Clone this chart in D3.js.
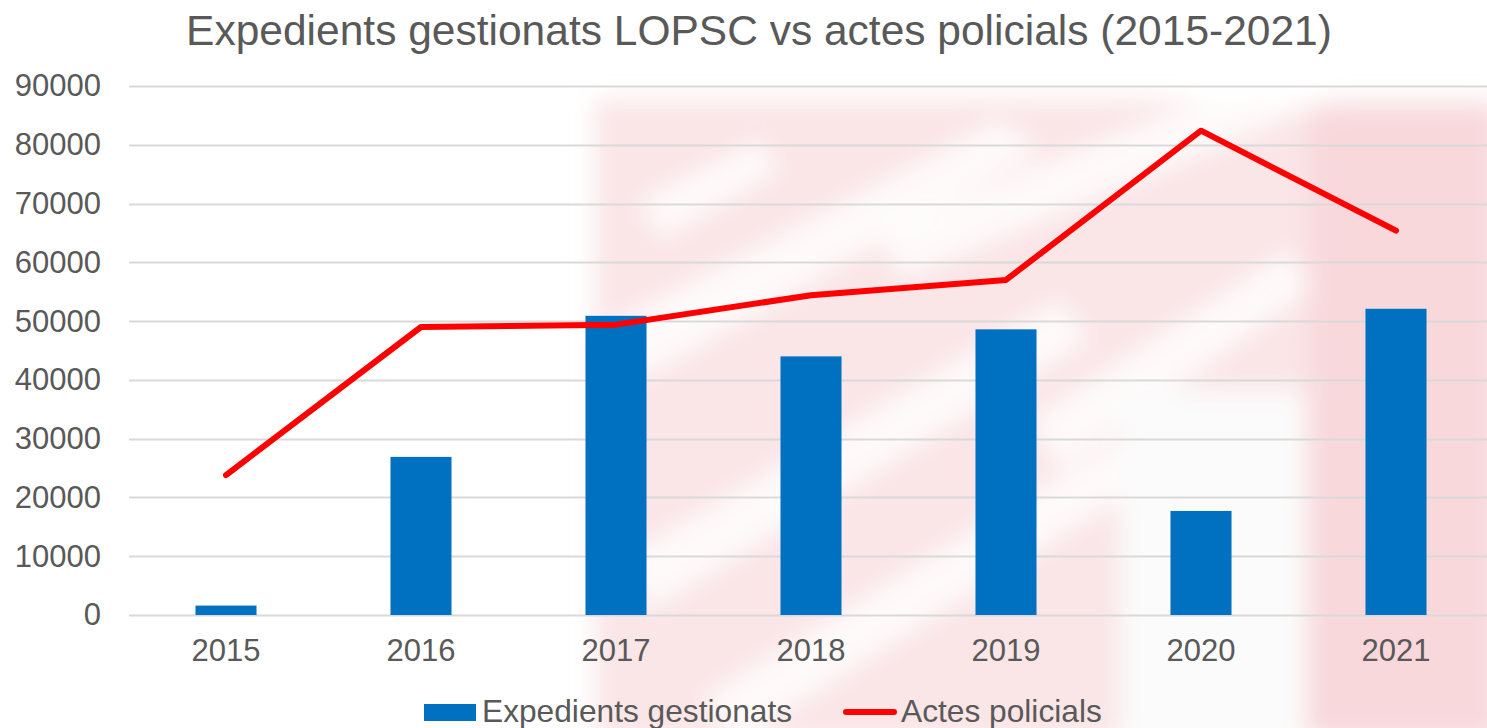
<!DOCTYPE html>
<html>
<head>
<meta charset="utf-8">
<script src="https://cdn.jsdelivr.net/npm/d3@7"></script>
<style>
  body { margin: 0; background: #fff; }
  svg { display: block; font-family: "Liberation Sans", Arial, sans-serif; }
</style>
</head>
<body>
<svg id="chart"></svg>
<script>
// data
var years = ["2015", "2016", "2017", "2018", "2019", "2020", "2021"];
var expedients = [1600, 26900, 50900, 44000, 48600, 17700, 52100];
var actes = [23800, 49000, 49400, 54400, 57000, 82400, 65400];
var yTicks = [0, 10000, 20000, 30000, 40000, 50000, 60000, 70000, 80000, 90000];

var W = 1487, H = 728;
var svg = d3.select("#chart").attr("width", W).attr("height", H);

var grey = "#595959";

// faint watermark behind the plot (decoration only)
var defs = svg.append("defs");
defs.append("filter").attr("id", "blur")
    .attr("x", "-20%").attr("y", "-20%").attr("width", "140%").attr("height", "140%")
    .append("feGaussianBlur").attr("stdDeviation", 12);
var wm = svg.append("g").attr("filter", "url(#blur)");
wm.append("rect").attr("x", 595).attr("y", 100).attr("width", 900).attr("height", 640)
    .attr("fill", "#f8dadd").attr("opacity", 0.7);
wm.append("rect").attr("x", 1310).attr("y", 110).attr("width", 190).attr("height", 630)
    .attr("fill", "#f8d8db");
// white streaks through the pink
var streaks = [
  "M600,330 L1000,120 L1040,150 L640,380 Z",
  "M620,560 L1060,300 L1090,340 L650,610 Z",
  "M700,700 L1150,420 L1180,460 L740,740 Z",
  "M880,230 L1300,60 L1330,100 L900,280 Z",
  "M1030,420 L1290,250 L1310,290 L1060,470 Z",
  "M640,200 L760,140 L780,170 L660,240 Z"
];
wm.selectAll("path.streak").data(streaks).enter().append("path")
    .attr("class", "streak").attr("d", function(d) { return d; })
    .attr("fill", "#fff").attr("opacity", 0.8);
wm.append("rect").attr("x", 1120).attr("y", 390).attr("width", 185).attr("height", 350)
    .attr("fill", "#fbfbfb");

var margin = { left: 128.5, right: 1493.5, top: 86, bottom: 615 };

var x = d3.scaleBand()
    .domain(years)
    .range([margin.left, margin.right])
    .paddingInner(0.687)
    .paddingOuter(0.3435);

var y = d3.scaleLinear()
    .domain([0, 90000])
    .range([margin.bottom, margin.top]);

// gridlines
svg.append("g").selectAll("line")
    .data(yTicks).enter().append("line")
    .attr("x1", 129).attr("x2", W)
    .attr("y1", function(d) { return Math.round(y(d)) + 0.5; })
    .attr("y2", function(d) { return Math.round(y(d)) + 0.5; })
    .attr("stroke", "#d9d9d9").attr("stroke-width", 2);

// y axis labels
var yAxis = d3.axisLeft(y).tickValues(yTicks).tickSize(0).tickPadding(0)
    .tickFormat(d3.format("d"));
var gy = svg.append("g").attr("transform", "translate(101,0)").call(yAxis);
gy.select(".domain").remove();
gy.selectAll("text").attr("fill", grey).style("font-size", "31px")
    .attr("font-family", "Liberation Sans, Arial, sans-serif");

// x axis labels
var xAxis = d3.axisBottom(x).tickSize(0).tickPadding(0);
var gx = svg.append("g").attr("transform", "translate(0,639)").call(xAxis);
gx.select(".domain").remove();
gx.selectAll("text").attr("fill", grey).style("font-size", "31px")
    .attr("font-family", "Liberation Sans, Arial, sans-serif");

// bars
svg.append("g").selectAll("rect")
    .data(expedients).enter().append("rect")
    .attr("x", function(d, i) { return x(years[i]); })
    .attr("width", x.bandwidth())
    .attr("y", function(d) { return y(d); })
    .attr("height", function(d) { return y(0) - y(d); })
    .attr("fill", "#0070c0");

// line
var line = d3.line()
    .x(function(d, i) { return x(years[i]) + x.bandwidth() / 2; })
    .y(function(d) { return y(d); });
svg.append("path")
    .datum(actes)
    .attr("d", line)
    .attr("fill", "none")
    .attr("stroke", "#ff0000")
    .attr("stroke-width", 6)
    .attr("stroke-linecap", "round")
    .attr("stroke-linejoin", "round");

// title
svg.append("text")
    .attr("x", 759).attr("y", 45)
    .attr("text-anchor", "middle")
    .attr("fill", grey)
    .style("font-size", "42.5px")
    .text("Expedients gestionats LOPSC vs actes policials (2015-2021)");

// legend
var lg = svg.append("g");
lg.append("rect").attr("x", 424).attr("y", 704).attr("width", 52).attr("height", 17)
    .attr("fill", "#0070c0");
lg.append("text").attr("x", 482).attr("y", 722).attr("fill", grey)
    .style("font-size", "31.7px").text("Expedients gestionats");
lg.append("line").attr("x1", 846).attr("x2", 894).attr("y1", 712).attr("y2", 712)
    .attr("stroke", "#ff0000").attr("stroke-width", 6).attr("stroke-linecap", "round");
lg.append("text").attr("x", 901).attr("y", 722).attr("fill", grey)
    .style("font-size", "31.7px").text("Actes policials");
</script>
</body>
</html>
